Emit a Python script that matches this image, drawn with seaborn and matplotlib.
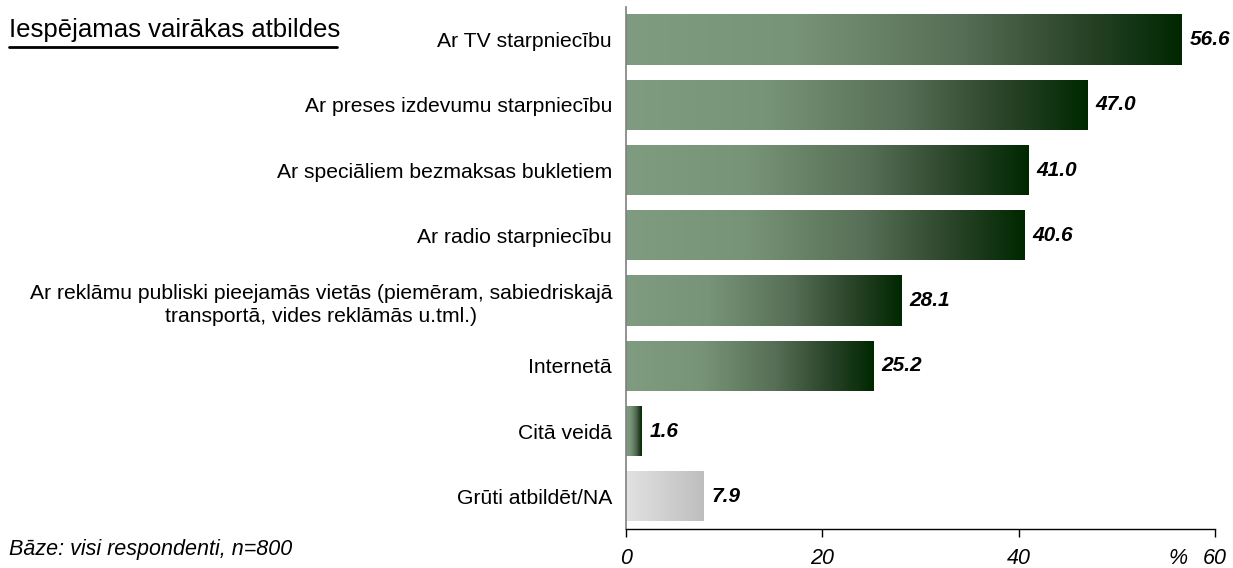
import numpy as np
import pandas as pd
import matplotlib
matplotlib.use("Agg")
import matplotlib.pyplot as plt
from matplotlib.colors import LinearSegmentedColormap
import seaborn as sns

categories = [
    "Ar TV starpniecību",
    "Ar preses izdevumu starpniecību",
    "Ar speciāliem bezmaksas bukletiem",
    "Ar radio starpniecību",
    "Ar reklāmu publiski pieejamās vietās (piemēram, sabiedriskajā\ntransportā, vides reklāmās u.tml.)",
    "Internetā",
    "Citā veidā",
    "Grūti atbildēt/NA",
]
values = [56.6, 47.0, 41.0, 40.6, 28.1, 25.2, 1.6, 7.9]
is_na = [False, False, False, False, False, False, False, True]
xticks = [0, 20, 40, 60]

sns.set_theme(style="white")
plt.rcParams["font.family"] = ["Liberation Sans", "DejaVu Sans"]
plt.rcParams["text.color"] = "black"
plt.rcParams["xtick.color"] = "black"
plt.rcParams["ytick.color"] = "black"

df = pd.DataFrame({"cat": categories, "val": values})

fig = plt.figure(figsize=(12.33, 5.68), dpi=100)
ax = fig.add_axes([0.5077, 0.0687, 0.4777, 0.919])
sns.barplot(data=df, x="val", y="cat", orient="h", color="#6a876a", width=0.77,
            ax=ax, order=categories)

green = LinearSegmentedColormap.from_list(
    "g", [(0.0, "#809c80"), (0.3, "#789478"), (0.6, "#566f56"), (0.82, "#2a442a"), (1.0, "#002800")])
gray = LinearSegmentedColormap.from_list("gr", [(0.0, "#e2e2e2"), (1.0, "#bebebe")])
grad = np.linspace(0, 1, 256).reshape(1, -1)

for patch, na in zip(ax.patches, is_na):
    x0, y0 = patch.get_x(), patch.get_y()
    w, h = patch.get_width(), patch.get_height()
    im = ax.imshow(grad, cmap=gray if na else green, aspect="auto",
                   extent=[x0, x0 + w, y0 + h, y0], interpolation="bicubic", zorder=2)
    im.set_clip_path(patch)
    patch.set_facecolor("none")
    patch.set_edgecolor("none")
    ax.text(x0 + w + 0.8, y0 + h / 2, f"{w:.1f}", ha="left", va="center",
            fontsize=15, fontweight="bold", fontstyle="italic", color="black")

ax.set_xlim(0, 60)
ax.set_ylim(len(categories) - 0.5, -0.5)
ax.set_xticks(xticks)
ax.set_xticklabels([str(t) for t in xticks], fontstyle="italic", fontsize=15.5)
ax.set_xlabel("")
ax.set_ylabel("")
ax.tick_params(axis="x", direction="out", length=6, width=1, color="black", pad=8, bottom=True)
ax.tick_params(axis="y", length=0, pad=10, labelsize=15.2)
for lbl in ax.get_yticklabels():
    lbl.set_multialignment("center")
    lbl.set_linespacing(1.3)
for s in ["top", "right"]:
    ax.spines[s].set_visible(False)
ax.spines["left"].set_color("#808080")
ax.spines["left"].set_linewidth(1.2)
ax.spines["bottom"].set_color("black")
ax.spines["bottom"].set_linewidth(1.0)

fig.canvas.draw()
lab60 = ax.get_xticklabels()[-1]
bb = lab60.get_window_extent()
fig.text(1178 / 1233, (bb.y0 + bb.y1) / 2 / fig.bbox.height, "%", ha="center", va="center",
         fontsize=15.5, fontstyle="italic")
fig.text(9 / 1233, 1 - 30 / 568, "Iespējamas vairākas atbildes", ha="left", va="center", fontsize=18.5)
fig.add_artist(plt.Line2D([9 / 1233, 337 / 1233], [1 - 47 / 568, 1 - 47 / 568], color="black", lw=2))
fig.text(9 / 1233, 1 - 550 / 568, "Bāze: visi respondenti, n=800", ha="left", va="center",
         fontsize=15.5, fontstyle="italic")

fig.savefig("out.png", dpi=100)
